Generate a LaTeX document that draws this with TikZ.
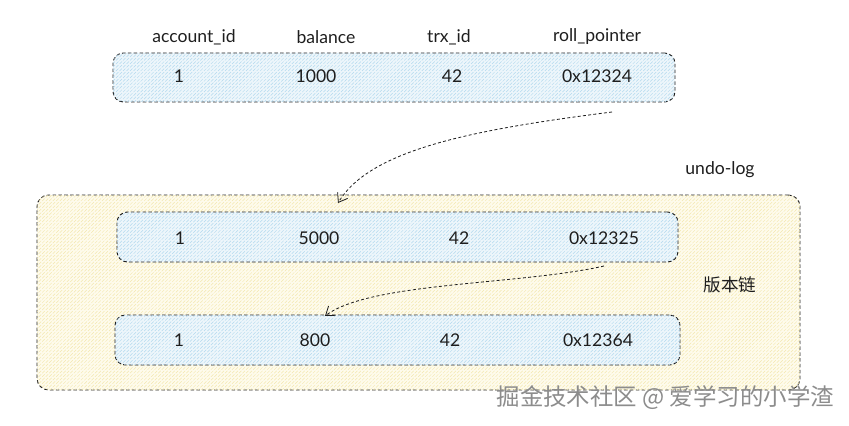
\documentclass[tikz,border=0pt]{standalone}
\usepackage{fontspec}
\setmainfont{Lato}
\newfontfamily\cjk{Noto Sans CJK SC}
\usetikzlibrary{arrows.meta, patterns, fit}

\definecolor{ink}{HTML}{1E1E1E}
\definecolor{rowfill}{HTML}{EDF6FB}
\definecolor{rowhatch}{HTML}{B2D8EE}
\definecolor{logfill}{HTML}{FEFBEC}
\definecolor{loghatch}{HTML}{F3E7AE}
\definecolor{markgray}{HTML}{8C8C8C}

\begin{document}
\begin{tikzpicture}[x=0.03cm, y=-0.03cm, >={Straight Barb[length=7pt, width=10pt]},
    txt/.style={text=ink, font=\fontsize{15}{17}\selectfont},
    rowbox/.style={draw=ink, line width=0.8pt, dash pattern=on 3pt off 2pt,
        rounded corners=9pt, inner sep=0pt, fill=rowfill,
        postaction={pattern=north east lines, pattern color=rowhatch}},
    logbox/.style={draw=ink, line width=0.8pt, dash pattern=on 3pt off 2pt,
        rounded corners=10pt, inner sep=0pt, fill=logfill,
        postaction={pattern=north east lines, pattern color=loghatch}},
    link/.style={->, draw=ink, line width=0.7pt, dash pattern=on 2.5pt off 2pt}]
    \useasboundingbox (0,0) rectangle (849,426);

    % --- undo-log 外框 ---
    \node[logbox, fit={(37,195) (800,390)}] (undolog) {};
    \node[txt] (loglabel) at (720,170) {undo-log};
    \node[txt] (chain) at (730,285) {\cjk 版本链};

    % --- 当前记录 ---
    \node[rowbox, fit={(113,53) (675,102)}] (cur) {};
    \node[txt] (h1) at (194,37) {account\_id};
    \node[txt] (h2) at (326,37) {balance};
    \node[txt] (h3) at (449,37) {trx\_id};
    \node[txt] (h4) at (597,37) {roll\_pointer};
    \node[txt] (c1) at (179,76) {1};
    \node[txt] (c2) at (316,76) {1000};
    \node[txt] (c3) at (452,76) {42};
    \node[txt] (c4) at (597,76) {0x12324};

    % --- 历史版本 1 ---
    \node[rowbox, fit={(117,212) (678,262)}] (ver1) {};
    \node[txt] (a1) at (180,238) {1};
    \node[txt] (a2) at (319,238) {5000};
    \node[txt] (a3) at (459,238) {42};
    \node[txt] (a4) at (604,238) {0x12325};

    % --- 历史版本 2 ---
    \node[rowbox, fit={(115,315) (680,365)}] (ver2) {};
    \node[txt] (b1) at (179,340) {1};
    \node[txt] (b2) at (315,340) {800};
    \node[txt] (b3) at (450,340) {42};
    \node[txt] (b4) at (598,340) {0x12364};

    % --- 指针 ---
    \coordinate (p1) at (612,112);
    \coordinate (q1) at (338,203);
    \coordinate (p2) at (604,266);
    \coordinate (q2) at (325,316);
    \draw[link] (p1) .. controls (470,130) and (370,150) .. (q1);
    \draw[link] (p2) .. controls (520,285) and (370,282) .. (q2);

    % --- 水印 ---
    \node[anchor=east, text=markgray, font=\cjk\fontsize{20}{22}\selectfont] (mark) at (838,398) {掘金技术社区 @ 爱学习的小学渣};
\end{tikzpicture}
\end{document}
